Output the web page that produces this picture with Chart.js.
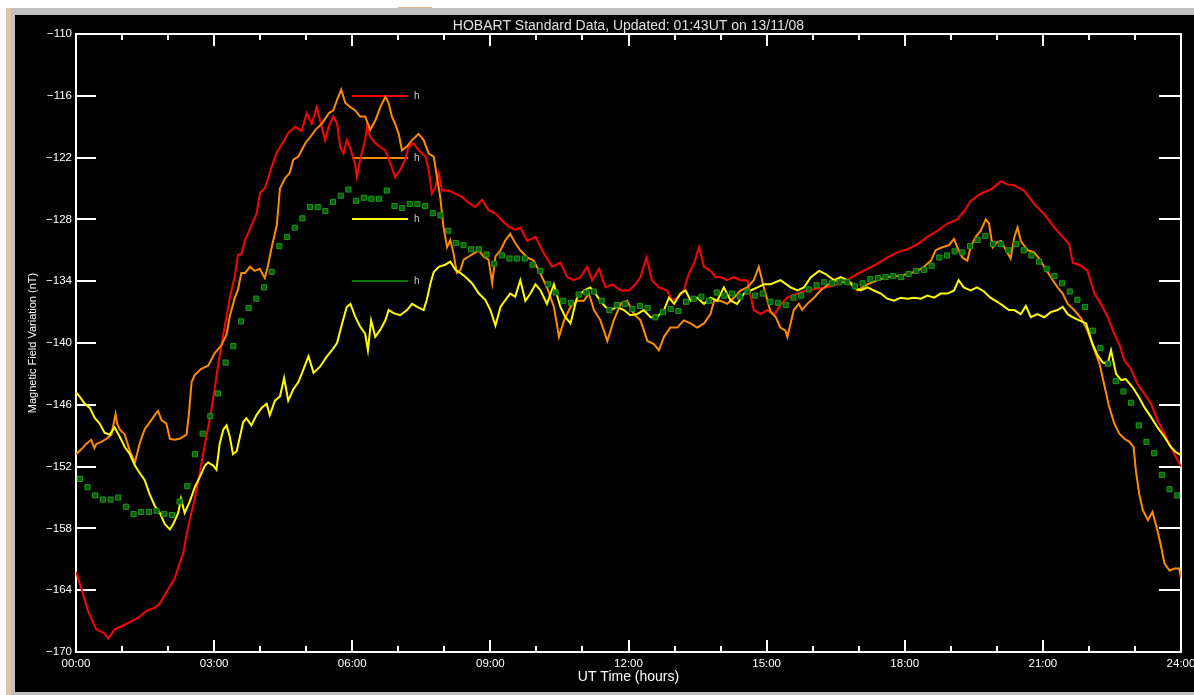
<!DOCTYPE html>
<html>
<head>
<meta charset="utf-8">
<title>HOBART Standard Data</title>
<script src="https://cdn.jsdelivr.net/npm/chart.js@4.4.1/dist/chart.umd.min.js"></script>
<style>
  html, body { margin: 0; padding: 0; background: #fff; }
  body { width: 1194px; height: 695px; overflow: hidden; position: relative; }
  .tan { position: absolute; left: 6px; top: 8px; width: 5px; height: 687px; background: #dfc3a3; }
  .bar { position: absolute; background: #c0c0c0; }
  .tab { position: absolute; left: 398px; top: 7px; width: 34px; height: 1px; background: #e6b58a; }
  #wrap { position: absolute; left: 15px; top: 15px; width: 1179px; height: 677px; background: #000; }
  canvas { display: block; }
</style>
</head>
<body>
<div class="tan"></div>
<div class="bar" style="left:11px;top:8px;width:1183px;height:7px"></div>
<div class="bar" style="left:11px;top:15px;width:4px;height:680px"></div>
<div class="bar" style="left:15px;top:692px;width:1179px;height:3px"></div>
<div class="tab"></div>
<div id="wrap"><canvas id="chart" width="1179" height="677"></canvas></div>
<script>
// H-component variation at Hobart, [UT hour, nT]
const redTrace = [
  [0,-162.2],[0.12,-163.9],[0.26,-166.0],[0.44,-167.8],[0.62,-168.2],[0.70,-168.7],[0.84,-167.8],[0.99,-167.5],
  [1.17,-167.1],[1.35,-166.7],[1.53,-166.0],[1.71,-165.7],[1.82,-165.3],[2.0,-163.9],[2.14,-162.9],[2.25,-161.4],
  [2.33,-160.4],[2.40,-158.6],[2.47,-157.2],[2.58,-155.1],[2.69,-152.6],[2.80,-149.8],[2.91,-147.3],[3.01,-144.5],
  [3.09,-142.0],[3.20,-139.2],[3.27,-137.4],[3.34,-135.6],[3.45,-133.5],[3.52,-131.4],[3.59,-131.4],[3.67,-130.0],
  [3.81,-128.6],[3.92,-127.5],[4.0,-125.4],[4.10,-125.0],[4.25,-122.9],[4.36,-121.5],[4.50,-120.5],[4.61,-119.6],
  [4.76,-119.0],[4.90,-119.4],[5.01,-117.7],[5.12,-118.7],[5.23,-117.1],[5.30,-118.4],[5.41,-120.3],[5.49,-119.0],
  [5.59,-118.0],[5.67,-118.7],[5.74,-121.0],[5.81,-121.6],[5.88,-120.3],[5.95,-121.0],[6.06,-122.6],[6.10,-123.9],
  [6.17,-122.2],[6.28,-120.3],[6.32,-119.0],[6.39,-120.0],[6.50,-120.6],[6.61,-121.0],[6.72,-121.3],[6.83,-122.6],
  [6.93,-123.9],[7.04,-123.2],[7.15,-122.2],[7.22,-121.0],[7.33,-120.6],[7.44,-121.3],[7.59,-121.9],[7.66,-123.2],
  [7.73,-125.5],[7.80,-124.9],[7.88,-123.5],[7.95,-125.2],[8.09,-125.2],[8.24,-125.5],[8.38,-125.8],[8.53,-126.4],
  [8.67,-126.8],[8.82,-126.1],[8.96,-127.1],[9.11,-127.4],[9.25,-128.1],[9.40,-128.7],[9.54,-129.0],[9.65,-128.8],
  [9.80,-130.1],[9.98,-129.7],[10.16,-131.3],[10.34,-132.6],[10.52,-132.2],[10.67,-133.6],[10.81,-133.9],[10.96,-133.6],
  [11.10,-132.6],[11.21,-133.9],[11.36,-132.8],[11.50,-134.6],[11.65,-134.3],[11.83,-134.9],[12.01,-134.9],[12.15,-134.3],
  [12.26,-133.6],[12.39,-131.7],[12.51,-133.9],[12.66,-134.6],[12.84,-134.9],[12.95,-135.9],[13.06,-135.6],[13.20,-134.9],
  [13.31,-133.3],[13.42,-132.3],[13.53,-130.7],[13.64,-132.6],[13.78,-133.0],[13.89,-133.6],[14.0,-133.6],[14.14,-133.9],
  [14.29,-133.6],[14.43,-133.9],[14.58,-133.9],[14.72,-136.8],[14.87,-137.2],[15.01,-136.8],[15.16,-137.3],[15.30,-136.3],
  [15.45,-135.6],[15.67,-135.2],[15.88,-134.9],[16.10,-134.7],[16.32,-134.6],[16.54,-134.3],[16.75,-133.9],[16.97,-133.3],
  [17.19,-132.8],[17.41,-132.3],[17.62,-131.7],[17.84,-131.2],[18.06,-130.9],[18.28,-130.4],[18.49,-129.7],[18.71,-129.1],
  [18.93,-128.4],[19.14,-128.0],[19.29,-127.2],[19.43,-126.2],[19.65,-125.5],[19.87,-125.1],[20.09,-124.3],[20.23,-124.6],
  [20.38,-124.7],[20.59,-125.2],[20.81,-126.5],[21.03,-127.5],[21.25,-128.8],[21.43,-129.7],[21.57,-130.4],[21.65,-132.2],
  [21.83,-132.5],[21.97,-133.0],[22.12,-135.2],[22.26,-136.2],[22.41,-137.5],[22.55,-139.1],[22.66,-140.1],[22.77,-141.7],
  [22.91,-142.5],[23.06,-144.0],[23.20,-144.9],[23.35,-145.9],[23.49,-147.5],[23.64,-148.8],[23.78,-150.1],[23.89,-151.1],
  [24.0,-152.0]
];

const orangeTrace = [
  [0,-150.8],[0.12,-150.3],[0.22,-149.8],[0.33,-149.4],[0.40,-150.2],[0.44,-149.8],[0.55,-149.6],[0.66,-149.3],
  [0.77,-148.9],[0.86,-146.9],[0.90,-147.9],[0.95,-148.4],[1.06,-148.9],[1.17,-150.5],[1.28,-151.6],[1.38,-149.8],
  [1.49,-148.4],[1.60,-147.7],[1.71,-147.0],[1.78,-146.6],[1.86,-147.5],[1.96,-147.8],[2.04,-149.3],[2.14,-149.4],
  [2.25,-149.3],[2.40,-148.9],[2.45,-147.0],[2.51,-143.8],[2.58,-143.1],[2.72,-142.5],[2.87,-142.2],[3.01,-141.0],
  [3.16,-140.2],[3.27,-139.2],[3.34,-137.4],[3.45,-135.6],[3.52,-134.8],[3.59,-133.2],[3.67,-133.2],[3.78,-132.6],
  [3.88,-133.0],[3.99,-132.8],[4.10,-133.7],[4.17,-132.5],[4.25,-130.7],[4.36,-128.6],[4.43,-125.0],[4.54,-124.0],
  [4.64,-123.5],[4.72,-122.2],[4.83,-121.9],[4.98,-120.6],[5.09,-120.0],[5.20,-119.3],[5.34,-118.7],[5.49,-117.7],
  [5.59,-117.4],[5.67,-116.4],[5.76,-115.4],[5.85,-116.7],[5.96,-117.1],[6.06,-117.4],[6.17,-118.0],[6.28,-118.0],
  [6.39,-119.3],[6.50,-118.4],[6.61,-117.1],[6.72,-116.1],[6.79,-116.7],[6.86,-118.0],[6.93,-118.7],[7.01,-119.7],
  [7.08,-121.3],[7.19,-120.9],[7.30,-120.3],[7.44,-119.7],[7.55,-120.3],[7.66,-121.6],[7.77,-121.9],[7.84,-123.9],
  [7.91,-125.8],[7.98,-128.7],[8.06,-130.7],[8.13,-130.0],[8.20,-131.3],[8.27,-133.2],[8.35,-132.9],[8.42,-131.9],
  [8.53,-131.6],[8.64,-131.3],[8.75,-131.0],[8.85,-131.6],[8.96,-131.9],[9.04,-134.2],[9.11,-131.6],[9.22,-131.0],
  [9.33,-130.0],[9.43,-129.4],[9.54,-130.3],[9.65,-131.0],[9.80,-131.7],[9.94,-132.0],[10.09,-133.3],[10.23,-134.6],
  [10.38,-136.5],[10.49,-139.4],[10.60,-137.8],[10.74,-136.5],[10.88,-135.9],[11.03,-135.9],[11.14,-135.2],[11.25,-136.8],
  [11.39,-137.8],[11.54,-139.8],[11.68,-137.8],[11.83,-136.2],[11.97,-135.9],[12.12,-137.2],[12.26,-137.8],[12.41,-139.8],
  [12.55,-140.1],[12.66,-140.7],[12.77,-139.4],[12.91,-138.5],[13.06,-138.5],[13.20,-137.8],[13.35,-138.1],[13.49,-138.5],
  [13.64,-138.1],[13.78,-137.2],[13.86,-135.9],[14.0,-135.9],[14.14,-136.2],[14.29,-135.6],[14.43,-134.9],[14.58,-134.6],
  [14.72,-133.9],[14.83,-132.6],[14.94,-134.6],[15.08,-136.9],[15.20,-137.5],[15.30,-138.5],[15.41,-138.8],[15.45,-139.4],
  [15.52,-138.1],[15.59,-136.8],[15.70,-136.2],[15.77,-136.8],[15.88,-136.2],[16.03,-135.6],[16.17,-134.9],[16.32,-134.4],
  [16.46,-133.9],[16.61,-134.1],[16.83,-134.1],[16.97,-134.9],[17.19,-134.3],[17.41,-133.9],[17.62,-133.6],[17.84,-133.5],
  [18.06,-133.3],[18.28,-133.0],[18.42,-132.6],[18.57,-132.0],[18.67,-131.0],[18.82,-130.7],[18.96,-130.5],[19.07,-129.9],
  [19.14,-130.7],[19.25,-131.7],[19.36,-132.0],[19.43,-130.7],[19.54,-129.7],[19.65,-129.1],[19.76,-128.0],[19.83,-128.4],
  [19.91,-130.7],[20.01,-130.2],[20.09,-130.1],[20.20,-131.0],[20.30,-131.8],[20.38,-129.7],[20.45,-128.8],[20.52,-130.1],
  [20.67,-131.0],[20.81,-131.2],[20.92,-131.8],[21.03,-132.6],[21.17,-133.6],[21.32,-134.6],[21.43,-135.2],[21.54,-136.2],
  [21.68,-136.8],[21.83,-137.6],[21.97,-138.8],[22.12,-140.7],[22.23,-142.0],[22.33,-144.0],[22.44,-146.2],[22.55,-147.8],
  [22.66,-148.8],[22.77,-149.3],[22.88,-149.6],[22.97,-150.1],[23.02,-152.4],[23.09,-154.6],[23.17,-156.2],[23.28,-157.2],
  [23.38,-156.4],[23.49,-158.2],[23.57,-159.8],[23.64,-161.4],[23.75,-162.1],[23.86,-161.9],[23.96,-161.9],[24.0,-162.8]
];

const yellowTrace = [
  [0,-144.8],[0.08,-145.2],[0.19,-145.9],[0.30,-146.3],[0.41,-147.3],[0.51,-147.8],[0.62,-148.7],[0.73,-148.9],
  [0.84,-148.2],[0.95,-149.1],[1.06,-150.1],[1.17,-150.8],[1.28,-151.9],[1.38,-152.6],[1.49,-153.3],[1.60,-154.7],
  [1.71,-155.8],[1.82,-156.5],[1.93,-157.6],[2.04,-158.1],[2.11,-157.6],[2.22,-156.5],[2.28,-155.1],[2.36,-156.5],
  [2.47,-155.4],[2.58,-154.0],[2.69,-153.0],[2.80,-151.9],[2.87,-151.6],[2.98,-151.9],[3.05,-152.3],[3.12,-149.8],
  [3.20,-148.4],[3.27,-148.0],[3.34,-149.1],[3.41,-150.8],[3.49,-150.5],[3.56,-149.1],[3.63,-147.7],[3.70,-147.3],
  [3.81,-148.0],[3.92,-147.0],[4.03,-146.3],[4.14,-145.9],[4.21,-147.0],[4.32,-145.6],[4.43,-145.2],[4.52,-143.4],
  [4.61,-145.6],[4.72,-144.5],[4.83,-143.8],[4.91,-142.9],[5.05,-141.3],[5.16,-142.9],[5.30,-142.3],[5.45,-141.3],
  [5.56,-140.7],[5.67,-140.0],[5.78,-138.1],[5.88,-136.5],[5.96,-136.2],[6.06,-137.4],[6.17,-138.4],[6.28,-139.1],
  [6.34,-140.7],[6.41,-137.8],[6.50,-139.4],[6.61,-138.7],[6.72,-137.8],[6.79,-136.8],[6.90,-137.1],[7.04,-137.3],
  [7.19,-136.8],[7.30,-136.2],[7.41,-136.5],[7.55,-136.8],[7.62,-135.8],[7.70,-134.2],[7.77,-133.1],[7.88,-132.6],
  [8.02,-132.4],[8.13,-132.1],[8.24,-132.9],[8.35,-133.2],[8.46,-133.6],[8.60,-134.2],[8.75,-135.2],[8.89,-135.8],
  [9.00,-136.8],[9.11,-138.3],[9.22,-136.5],[9.33,-135.8],[9.43,-135.2],[9.54,-135.5],[9.65,-133.9],[9.76,-135.9],
  [9.87,-135.2],[9.98,-134.3],[10.09,-134.9],[10.23,-136.2],[10.38,-134.3],[10.52,-136.5],[10.63,-137.5],[10.74,-138.1],
  [10.88,-135.6],[11.03,-134.9],[11.17,-134.6],[11.28,-135.2],[11.39,-135.9],[11.50,-136.5],[11.61,-136.8],[11.75,-136.5],
  [11.90,-136.8],[12.04,-137.3],[12.19,-137.2],[12.33,-136.8],[12.48,-137.5],[12.62,-137.5],[12.77,-136.8],[12.88,-135.6],
  [12.99,-136.2],[13.13,-135.2],[13.24,-134.9],[13.35,-135.9],[13.49,-135.6],[13.64,-136.2],[13.78,-135.6],[13.93,-135.9],
  [14.07,-134.6],[14.22,-135.9],[14.36,-136.2],[14.51,-135.2],[14.65,-134.9],[14.80,-134.6],[14.94,-134.3],[15.09,-134.3],
  [15.30,-133.9],[15.52,-134.6],[15.67,-134.9],[15.81,-134.6],[15.96,-133.6],[16.14,-133.0],[16.28,-133.3],[16.46,-133.9],
  [16.61,-133.6],[16.75,-133.9],[16.90,-134.6],[17.04,-134.9],[17.19,-134.6],[17.33,-134.9],[17.48,-135.2],[17.62,-135.7],
  [17.77,-135.9],[17.91,-135.6],[18.06,-135.7],[18.20,-135.6],[18.35,-135.7],[18.49,-135.4],[18.64,-135.6],[18.78,-135.2],
  [18.93,-135.2],[19.07,-134.9],[19.17,-133.9],[19.28,-134.6],[19.43,-134.9],[19.57,-134.6],[19.72,-135.0],[19.86,-135.6],
  [20.01,-136.0],[20.14,-136.4],[20.26,-136.8],[20.38,-136.8],[20.52,-137.2],[20.63,-136.4],[20.74,-137.5],[20.88,-137.2],
  [21.03,-137.5],[21.17,-137.0],[21.32,-136.8],[21.43,-136.5],[21.54,-137.2],[21.65,-137.5],[21.79,-137.8],[21.94,-138.1],
  [22.01,-139.1],[22.08,-140.1],[22.19,-141.2],[22.30,-141.9],[22.41,-142.0],[22.48,-140.7],[22.59,-143.0],[22.70,-143.6],
  [22.80,-143.5],[22.95,-144.3],[23.09,-145.3],[23.20,-146.2],[23.35,-147.2],[23.49,-148.2],[23.64,-149.1],[23.78,-150.1],
  [23.89,-150.6],[24.0,-150.9]
];

// 10-minute means, centred on each 10-minute bin (00:05, 00:15, ...)
const greenMeans = [
  -153.2,-154.0,-154.8,-155.2,-155.2,-155.0,-155.9,-156.6,-156.4,-156.4,-156.3,-156.6,-156.7,-155.4,-153.9,-150.8,
  -148.8,-147.1,-144.9,-141.9,-140.3,-137.9,-136.6,-135.7,-134.6,-133.1,-130.6,-129.7,-128.8,-127.9,
  -126.8,-126.8,-127.2,-126.3,-125.7,-125.1,-126.2,-125.9,-126.0,-126.0,-125.2,-126.7,-126.9,-126.5,-126.5,-126.7,
  -127.4,-127.6,-129.1,-130.3,-130.5,-130.9,-130.9,-131.4,-132.3,-131.5,-131.8,-131.8,-131.8,
  -132.4,-133.0,-134.3,-135.1,-135.9,-136.1,-135.3,-135.1,-135.0,-135.9,-136.8,-136.3,-136.2,-136.7,-136.4,-136.6,
  -137.5,-137.0,-136.7,-136.9,-136.0,-135.7,-135.5,-135.9,-135.1,-135.4,-135.2,-135.5,-135.0,-135.4,-135.2,
  -136.0,-136.1,-136.3,-135.6,-135.4,-134.8,-134.4,-134.1,-134.2,-134.1,-134.1,-134.5,-134.2,-133.8,-133.7,-133.6,
  -133.5,-133.6,-133.3,-133.0,-132.9,-132.5,-131.7,-131.5,-131.1,-131.2,-130.6,-130.0,-129.6,-130.4,-130.4,-131.0,
  -130.4,-131.0,-131.5,-132.1,-132.8,-133.5,-134.2,-135.0,-135.8,-136.5,-138.8,-140.5,-142.0,-143.7,-144.7,-145.8,
  -148.0,-149.6,-150.7,-152.8,-154.2,-154.8
];
const meanStepHours = 1 / 6;

const hourTicks = [0, 3, 6, 9, 12, 15, 18, 21, 24];
const hourLabels = ['00:00', '03:00', '06:00', '09:00', '12:00', '15:00', '18:00', '21:00', '24:00'];

const titleText = 'HOBART Standard Data, Updated: 01:43UT on 13/11/08';
const FONT = '"Liberation Sans", Arial, sans-serif';

const toPoints = arr => arr.map(p => ({ x: p[0], y: p[1] }));
const greenPoints = greenMeans.map((v, i) => ({ x: (i + 0.5) * meanStepHours, y: v }));

// key: short coloured bars with an "h" label, drawn at nT levels on the plot
const keyEntries = [
  { color: '#ff0000', level: -116 },
  { color: '#ff8c00', level: -122 },
  { color: '#ffff00', level: -128 },
  { color: '#007a00', level: -134 }
];

const idlFrame = {
  id: 'idlFrame',
  beforeDatasetsDraw(chart) {
    const { ctx, chartArea: a, scales: { x, y } } = chart;
    ctx.save();
    ctx.strokeStyle = '#ffffff';
    ctx.lineWidth = 2;
    ctx.beginPath();
    ctx.rect(a.left, a.top, a.right - a.left, a.bottom - a.top);
    for (let h = 0; h <= 24; h++) {
      const px = Math.round(x.getPixelForValue(h));
      const len = h % 3 === 0 ? 12 : 6;
      ctx.moveTo(px, a.bottom); ctx.lineTo(px, a.bottom - len);
      ctx.moveTo(px, a.top); ctx.lineTo(px, a.top + len);
    }
    y.ticks.forEach(t => {
      const py = Math.round(y.getPixelForValue(t.value));
      ctx.moveTo(a.left, py); ctx.lineTo(a.left + 20, py);
      ctx.moveTo(a.right, py); ctx.lineTo(a.right - 22, py);
    });
    ctx.stroke();

    // key bars
    const x0 = Math.round(x.getPixelForValue(6.0));
    const x1 = Math.round(x.getPixelForValue(7.2));
    ctx.font = '10px ' + FONT;
    ctx.textBaseline = 'alphabetic';
    ctx.textAlign = 'left';
    keyEntries.forEach(k => {
      const py = Math.round(y.getPixelForValue(k.level));
      ctx.strokeStyle = k.color;
      ctx.lineWidth = 2;
      ctx.beginPath();
      ctx.moveTo(x0, py); ctx.lineTo(x1, py);
      ctx.stroke();
      ctx.fillStyle = '#c8c8c8';
      ctx.fillText('h', x1 + 6, py + 3);
    });
    ctx.restore();
  },
  afterDraw(chart) {
    const { ctx, chartArea: a } = chart;
    ctx.save();
    ctx.fillStyle = '#e0e0e0';
    ctx.font = '14px ' + FONT;
    ctx.textAlign = 'center';
    ctx.textBaseline = 'alphabetic';
    ctx.fillText(titleText, (a.left + a.right) / 2, 15);
    ctx.restore();
  }
};

new Chart(document.getElementById('chart'), {
  type: 'line',
  data: {
    datasets: [
      { label: 'red', data: toPoints(redTrace), borderColor: '#ff0000', borderWidth: 2, order: 4 },
      { label: 'orange', data: toPoints(orangeTrace), borderColor: '#ff8c00', borderWidth: 2, order: 3 },
      { label: 'yellow', data: toPoints(yellowTrace), borderColor: '#ffff00', borderWidth: 2, order: 2 },
      {
        label: 'green', data: greenPoints, showLine: false, order: 1,
        pointStyle: 'rect', pointRadius: 3.6, pointBorderWidth: 1,
        pointBackgroundColor: '#0b5e0b', pointBorderColor: '#1c9a1c'
      }
    ]
  },
  options: {
    responsive: false,
    animation: false,
    devicePixelRatio: 1,
    parsing: true,
    layout: { padding: { left: 0, right: 13, top: 19, bottom: 0 } },
    elements: { line: { tension: 0, fill: false }, point: { radius: 0, hoverRadius: 0 } },
    plugins: { legend: { display: false }, tooltip: { enabled: false }, title: { display: false } },
    events: [],
    scales: {
      x: {
        type: 'linear', min: 0, max: 24,
        grid: { display: false, drawTicks: false }, border: { display: false },
        afterBuildTicks: s => { s.ticks = hourTicks.map(v => ({ value: v })); },
        ticks: {
          color: '#ffffff', font: { family: FONT, size: 11.5 }, padding: 5,
          maxRotation: 0, autoSkip: false,
          callback: (v) => hourLabels[hourTicks.indexOf(v)]
        },
        title: {
          display: true, text: 'UT Time (hours)', color: '#ffffff',
          font: { family: FONT, size: 14 }, padding: { top: 0, bottom: 6.6 }
        },
        afterFit: s => { s.height = 40; s.paddingLeft = 0; s.paddingRight = 0; }
      },
      y: {
        type: 'linear', min: -170, max: -110,
        grid: { display: false, drawTicks: false }, border: { display: false },
        ticks: {
          stepSize: 6, color: '#ffffff', font: { family: FONT, size: 11.5 }, padding: 4,
          callback: v => '\u2212' + Math.abs(v)
        },
        title: {
          display: true, text: 'Magnetic Field Variation (nT)', color: '#ffffff',
          font: { family: FONT, size: 11 }, padding: { top: 11, bottom: 0 }
        },
        afterFit: s => { s.width = 61; s.paddingTop = 0; s.paddingBottom = 0; }
      }
    }
  },
  plugins: [idlFrame]
});
</script>
</body>
</html>
